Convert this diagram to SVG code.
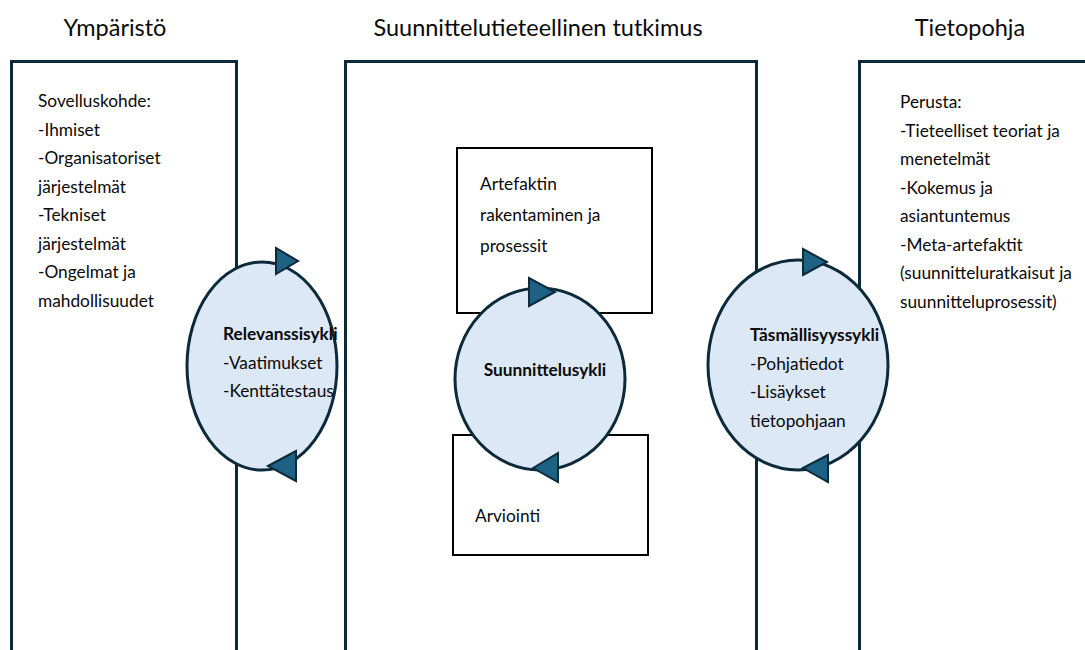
<svg xmlns="http://www.w3.org/2000/svg" width="1085" height="650" viewBox="0 0 1085 650">
  <style>
    .frame { fill: none; stroke: #0d2a3a; stroke-width: 3; }
    .box { fill: #ffffff; stroke: #000000; stroke-width: 2; }
    .cycle { fill: #dce8f5; stroke: #0d2a3a; stroke-width: 3; }
    .head { fill: #1d6285; stroke: #0d2a3a; stroke-width: 2; stroke-linejoin: miter; }
    text { font-family: "Lato", "Liberation Sans", sans-serif; fill: #0a0a0a; }
    .title { font-size: 23.5px; }
    .body { font-size: 17.3px; }
    .bold { font-weight: bold; }
  </style>

  <!-- column headings -->
  <text class="title" x="115" y="36" text-anchor="middle">Ympäristö</text>
  <text class="title" x="538" y="36" text-anchor="middle">Suunnittelutieteellinen tutkimus</text>
  <text class="title" x="970" y="36" text-anchor="middle">Tietopohja</text>

  <!-- environment column -->
  <g id="environment">
    <path class="frame" d="M11.5 652 V61.5 H236.5 V652"/>
    <text class="body" x="38" y="107">Sovelluskohde:</text>
    <text class="body" x="38" y="135.5">-Ihmiset</text>
    <text class="body" x="38" y="164">-Organisatoriset</text>
    <text class="body" x="38" y="192.5">järjestelmät</text>
    <text class="body" x="38" y="221">-Tekniset</text>
    <text class="body" x="38" y="249.5">järjestelmät</text>
    <text class="body" x="38" y="278">-Ongelmat ja</text>
    <text class="body" x="38" y="306.5">mahdollisuudet</text>
  </g>

  <!-- design science research column -->
  <g id="research">
    <path class="frame" d="M345.5 652 V61.5 H756.5 V652"/>
  </g>

  <!-- knowledge base column -->
  <g id="knowledge-base">
    <path class="frame" d="M859.5 652 V61.5 H1090"/>
    <text class="body" x="900" y="108">Perusta:</text>
    <text class="body" x="900" y="136.5">-Tieteelliset teoriat ja</text>
    <text class="body" x="900" y="165">menetelmät</text>
    <text class="body" x="900" y="193.5">-Kokemus ja</text>
    <text class="body" x="900" y="222">asiantuntemus</text>
    <text class="body" x="900" y="250.5">-Meta-artefaktit</text>
    <text class="body" x="900" y="279">(suunnitteluratkaisut ja</text>
    <text class="body" x="900" y="307.5">suunnitteluprosessit)</text>
  </g>

  <!-- build activity -->
  <g id="build">
    <rect class="box" x="457" y="148" width="195" height="165"/>
    <text class="body" x="480" y="190">Artefaktin</text>
    <text class="body" x="480" y="221">rakentaminen ja</text>
    <text class="body" x="480" y="252">prosessit</text>
  </g>

  <!-- evaluate activity -->
  <g id="evaluate">
    <rect class="box" x="453" y="435" width="195" height="120"/>
    <text class="body" x="475" y="522">Arviointi</text>
  </g>

  <!-- relevance cycle -->
  <g id="relevance-cycle">
    <ellipse class="cycle" cx="262" cy="366" rx="75" ry="104"/>
    <text class="body bold" x="223" y="340">Relevanssisykli</text>
    <text class="body" x="223" y="368.5">-Vaatimukset</text>
    <text class="body" x="223" y="397">-Kenttätestaus</text>
  </g>

  <!-- design cycle -->
  <g id="design-cycle">
    <ellipse class="cycle" cx="540" cy="379" rx="85" ry="91"/>
    <text class="body bold" x="545" y="376" text-anchor="middle">Suunnittelusykli</text>
  </g>

  <!-- rigor cycle -->
  <g id="rigor-cycle">
    <ellipse class="cycle" cx="798" cy="365" rx="90" ry="105"/>
    <text class="body bold" x="750" y="341">Täsmällisyyssykli</text>
    <text class="body" x="750" y="369.5">-Pohjatiedot</text>
    <text class="body" x="750" y="398">-Lisäykset</text>
    <text class="body" x="750" y="426.5">tietopohjaan</text>
  </g>

  <!-- cycle direction arrowheads -->
  <g id="connectors">
    <polygon class="head" points="276,248 276,274 298,261"/>
    <polygon class="head" points="268,466 296,451 296,481"/>
    <polygon class="head" points="529,278 529,306 555,292"/>
    <polygon class="head" points="533,468 558,453 558,482"/>
    <polygon class="head" points="803,249 803,275 827,262"/>
    <polygon class="head" points="803,468 828,455 828,482"/>
  </g>
</svg>
